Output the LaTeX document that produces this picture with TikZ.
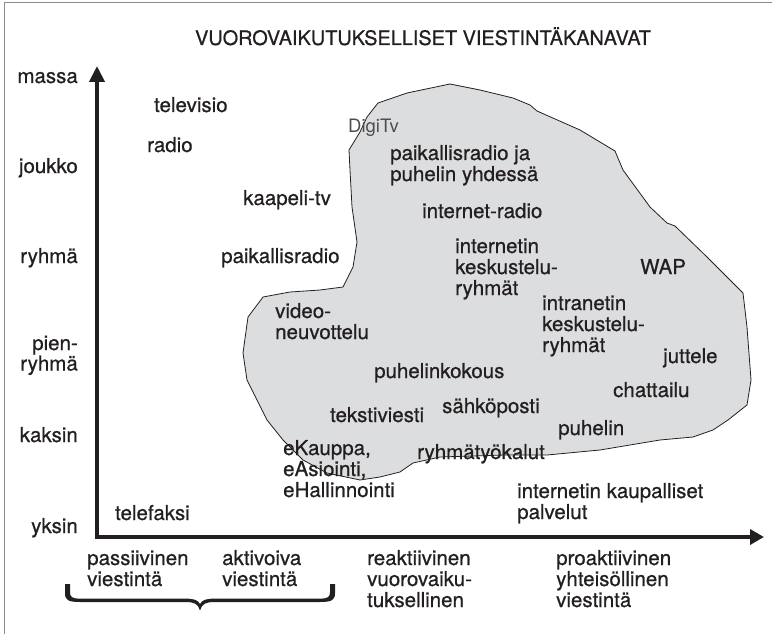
\documentclass[tikz,border=0pt]{standalone}
\usepackage{fontspec}
\setmainfont{TeX Gyre Heros}[FakeBold=0.7]
\newfontfamily\thinfont{TeX Gyre Heros}
\usetikzlibrary{arrows.meta}
\definecolor{inkc}{HTML}{231F20}
\definecolor{blobfill}{HTML}{DCDDDF}
\definecolor{framec}{HTML}{8A8A8A}
\tikzset{
  lbl/.style={anchor=base west, inner sep=0pt, text=inkc, align=left,
    font=\fontsize{20.5}{21}\selectfont},
  axlbl/.style={anchor=base east, inner sep=0pt, text=inkc, align=right,
    font=\fontsize{20.5}{18.5}\selectfont},
  axisline/.style={draw=inkc, line width=4.6pt},
}
\begin{document}
\begin{tikzpicture}[x=1pt, y=-1pt]
\useasboundingbox (0,0) rectangle (772,634);

% frame: top and left edges only
\draw[framec, line width=1.4pt] (4.5,634) -- (4.5,2.5) -- (772,2.5);

% title
\node[anchor=base, inner sep=0pt, text=inkc, font=\fontsize{19.9}{20}\selectfont]
  (title) at (423,45) {VUOROVAIKUTUKSELLISET VIESTINTÄKANAVAT};

% interactive region
\draw[fill=blobfill, draw=inkc, line width=0.8pt]
  (450,84) -- (480,90) -- (513,98) -- (530,105) -- (537,111) -- (580,130)
  -- (615,151) -- (623,170) -- (650,207) -- (667,223) -- (675,226)
  -- (707,257) -- (743,293) -- (747,327) -- (751,380) -- (747,405)
  -- (728,420) -- (713,430) -- (693,437) -- (660,440) -- (600,450)
  -- (547,455) -- (505,455) -- (440,457) -- (413,463) -- (400,472)
  -- (380,477) -- (360,480) -- (327,473) -- (303,460) -- (283,440)
  -- (267,420) -- (247,380) -- (243,353) -- (248,317) -- (263,297)
  -- (290,292) -- (320,290) -- (343,287) -- (353,267) -- (357,242)
  -- (352,207) -- (350,170) -- (349,150) -- (360,132) -- (367,117)
  -- (378,103) -- (407,93) -- cycle;

% axes
\coordinate (origin) at (95,537);
\coordinate (ytip) at (97,66);
\coordinate (xtip) at (764,537);
\draw[axisline, -{Triangle[length=16pt,width=15pt]}] (97,539.3) -- (ytip);
\draw[axisline, -{Triangle[length=14pt,width=15pt]}] (origin) -- (xtip);

% vertical axis labels
\node[axlbl] (massa) at (78,83) {massa};
\node[axlbl] (joukko) at (78,173) {joukko};
\node[axlbl] (ryhma) at (78,263) {ryhmä};
\node[axlbl] (pienryhma) at (78,370.5) {pien-\\ryhmä};
\node[axlbl] (kaksin) at (78,442) {kaksin};
\node[axlbl] (yksin) at (78,533) {yksin};

% horizontal axis labels (anchored at the baseline of their last line)
\node[lbl] (passiivinen) at (87,586) {passiivinen\\viestintä};
\node[lbl] (aktivoiva) at (222,586) {aktivoiva\\viestintä};
\node[lbl] (reaktiivinen) at (367,607) {reaktiivinen\\vuorovaiku-\\tuksellinen};
\node[lbl] (proaktiivinen) at (556,607) {proaktiivinen\\yhteisöllinen\\viestintä};

% brace under the first two categories
\fill[inkc]
  (65,584) -- (65,593) .. controls (65,600) and (68,602) .. (80,602)
  -- (185,602) .. controls (195,602) and (198,604) .. (200,610.5)
  .. controls (202,604) and (205,602) .. (215,602) -- (320,602)
  .. controls (332,602) and (335,600) .. (335,593) -- (335,584)
  -- (330,584) -- (330,592) .. controls (330,597) and (328,598.6) .. (320,598.6)
  -- (215,598.6) .. controls (206,598.6) and (202,600) .. (200,604)
  .. controls (198,600) and (194,598.6) .. (185,598.6) -- (80,598.6)
  .. controls (72,598.6) and (70,597) .. (70,592) -- (70,584) -- cycle;

% channels outside the region
\node[lbl] (televisio) at (154,112) {televisio};
\node[lbl] (radio) at (147,152) {radio};
\node[lbl] (kaapelitv) at (243,205) {kaapeli-tv};
\node[lbl] (paikallisradio) at (221,263) {paikallisradio};
\node[lbl] (telefaksi) at (115,520) {telefaksi};
\node[lbl] (kaupalliset) at (517,519) {internetin kaupalliset\\palvelut};

% channels inside the region
\node[anchor=base west, inner sep=0pt, text=inkc!80,
  font=\thinfont\fontsize{18.5}{19}\selectfont] (digitv) at (348,132) {DigiTv};
\node[lbl] (paikpuhelin) at (390,181) {paikallisradio ja\\puhelin yhdessä};
\node[lbl] (netradio) at (422,218) {internet-radio};
\node[lbl] (internetin) at (455,295) {internetin\\keskustelu-\\ryhmät};
\node[lbl] (wap) at (640,274) {WAP};
\node[lbl] (intranetin) at (542,352) {intranetin\\keskustelu-\\ryhmät};
\node[lbl] (video) at (275,339) {video-\\neuvottelu};
\node[lbl] (juttele) at (663,363) {juttele};
\node[lbl] (puhelinkokous) at (374,378) {puhelinkokous};
\node[lbl] (chattailu) at (613,397) {chattailu};
\node[lbl] (sahkoposti) at (442,413) {sähköposti};
\node[lbl] (tekstiviesti) at (330,422) {tekstiviesti};
\node[lbl] (puhelin) at (558,435) {puhelin};
\node[lbl] (ekauppa) at (283,497) {eKauppa,\\eAsiointi,\\eHallinnointi};
\node[lbl] (ryhmatyokalut) at (417,459) {ryhmätyökalut};
\end{tikzpicture}
\end{document}
